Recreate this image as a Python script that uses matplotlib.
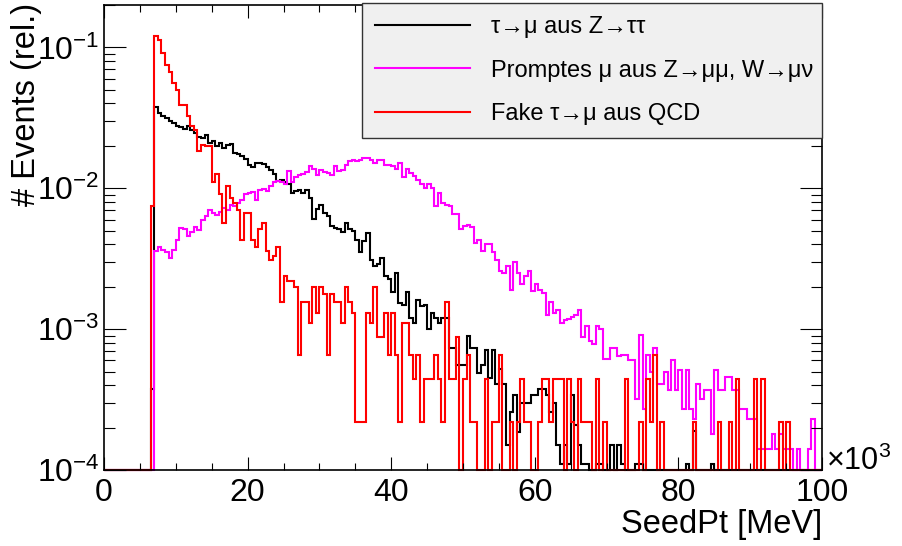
import numpy as np
import matplotlib
matplotlib.use('Agg')
import matplotlib.pyplot as plt
from matplotlib.ticker import MultipleLocator, LogLocator, NullFormatter

plt.rcParams['font.family'] = ['Liberation Sans', 'DejaVu Sans']
plt.rcParams['mathtext.fontset'] = 'custom'
plt.rcParams['mathtext.rm'] = 'Liberation Sans'
plt.rcParams['mathtext.it'] = 'Liberation Sans:italic'

# 200 bins of 0.5 (x 10^3 MeV) from 0 to 100
edges = np.linspace(0, 100, 201)

# tau -> mu from Z -> tautau
black = [
    0, 0, 0, 0, 0, 0, 0, 0, 0, 0,
    0, 0, 0, 3.75e-4, 0.0379, 0.0344, 0.0326, 0.0314, 0.0302, 0.0289,
    0.0277, 0.0271, 0.0262, 0.0277, 0.0259, 0.0248, 0.0232, 0.0226, 0.0239, 0.0211,
    0.0218, 0.0200, 0.0208, 0.0192, 0.0203, 0.0206, 0.0179, 0.0175, 0.0169, 0.0161,
    0.0146, 0.0142, 0.0152, 0.0152, 0.0149, 0.0141, 0.0135, 0.0126, 0.0113, 0.0115,
    0.0111, 0.0107, 0.0093, 0.0096, 0.0097, 0.0092, 0.0097, 0.0085, 0.0061, 0.0071,
    0.0076, 0.0067, 0.0064, 0.0054, 0.0052, 0.0051, 0.0049, 0.0057, 0.0051, 0.0050,
    0.0043, 0.0035, 0.0042, 0.0048, 0.0031, 0.0028, 0.0029, 0.0032, 0.0024, 0.00226,
    0.00182, 0.00252, 0.00153, 0.00149, 0.00182, 0.00120, 0.00110, 0.00160, 0.00146, 0.00149,
    0.00100, 0.00130, 0.00120, 0.00111, 0.00120, 0.00120, 0.00074, 0.00074, 0.00056, 0.00056,
    0.00056, 0.00090, 0.00074, 0.00073, 0.00049, 0.00056, 0.00071, 0.00045, 0.00071, 0.00041,
    0.00052, 0.00041, 0.00015, 0.00026, 0.00034, 0.000185, 0.00030, 0.00030, 0.00030, 0.00034,
    0.00034, 0.000375, 0.000375, 0.00034, 0.00026, 0.00030, 0.00015, 0.00011, 0.00015, 0.00011,
    0.00034, 0.00021, 0.00015, 0.00011, 0.00011, 0, 0, 0.00011, 0.00011, 0,
    0, 0.00015, 0, 0.00015, 0.00011, 0, 0, 0, 0.00011, 0.00011,
    0, 0, 0, 0, 0, 0, 0, 0, 0, 0,
    0, 0, 0.00011, 0, 0.00019, 0, 0, 0, 0, 0.00011,
    0, 0, 0, 0, 0, 0, 0, 0, 0, 0,
    0, 0, 0, 0, 0, 0, 0, 0, 0, 0,
    0, 0, 0, 0, 0, 0, 0, 0, 0, 0,
]

# prompt mu from Z -> mumu, W -> munu
magenta = [
    0, 0, 0, 0, 0, 0, 0, 0, 0, 0,
    0, 0, 0, 0, 0.00361, 0.00382, 0.00366, 0.00350, 0.00319, 0.00366,
    0.00431, 0.00520, 0.00512, 0.00459, 0.00493, 0.00535, 0.00506, 0.00596, 0.00637, 0.00702,
    0.00672, 0.00647, 0.00684, 0.00722, 0.00702, 0.00762, 0.00750, 0.00783, 0.00826, 0.00912,
    0.00923, 0.00946, 0.00826, 0.00973, 0.00984, 0.00962, 0.0103, 0.0111, 0.0113, 0.0110,
    0.0107, 0.0133, 0.0111, 0.0121, 0.0124, 0.0126, 0.0131, 0.0144, 0.0136, 0.0124,
    0.0135, 0.0131, 0.0129, 0.0124, 0.0144, 0.0133, 0.0135, 0.0146, 0.0157, 0.0159,
    0.0156, 0.0159, 0.0163, 0.0163, 0.0159, 0.0150, 0.0159, 0.0159, 0.0147, 0.0146,
    0.0143, 0.0136, 0.0152, 0.0121, 0.0136, 0.0129, 0.0122, 0.0115, 0.0107, 0.0100,
    0.0108, 0.0100, 0.0075, 0.0093, 0.0078, 0.0076, 0.0075, 0.0066, 0.0066, 0.0051,
    0.0054, 0.0055, 0.0053, 0.0041, 0.0043, 0.0036, 0.0040, 0.0040, 0.0035, 0.0031,
    0.0026, 0.0025, 0.0028, 0.0019, 0.0030, 0.0025, 0.0021, 0.0024, 0.0026, 0.00185,
    0.0021, 0.0019, 0.0018, 0.00126, 0.00157, 0.0013, 0.00137, 0.00111, 0.00116, 0.00118,
    0.00122, 0.00126, 0.00137, 0.00088, 0.00106, 0.00083, 0.00079, 0.00106, 0.0010, 0.00061,
    0.00061, 0.00073, 0.00073, 0.00064, 0.00065, 0.00065, 0.00060, 0.00060, 0.00032, 0.00091,
    0.00027, 0.00065, 0.00050, 0.00073, 0.00041, 0.00041, 0.00050, 0.00037, 0.00060, 0.00037,
    0.00051, 0.00027, 0.00051, 0.00027, 0.00023, 0.00041, 0.00032, 0.00037, 0.00037, 0.00018,
    0.00051, 0.00037, 0.00037, 0.00046, 0.00046, 0.00037, 0.00037, 0.00027, 0.00027, 0.00023,
    0.00023, 0.00023, 0.00014, 0.00014, 0.00014, 0.00014, 0.00018, 0.00014, 0.00018, 0.00014,
    0.00014, 0.00014, 0, 0.00014, 0, 0, 0.00014, 0.00023, 0, 0,
]

# fake tau -> mu from QCD
red = [
    0, 0, 0, 0, 0, 0, 0, 0, 0, 0,
    0, 0, 0, 0.0075, 0.120, 0.113, 0.092, 0.075, 0.067, 0.056,
    0.050, 0.039, 0.039, 0.0326, 0.0277, 0.0259, 0.0185, 0.0203, 0.0198, 0.0198,
    0.0111, 0.0126, 0.0091, 0.0057, 0.0104, 0.0085, 0.0078, 0.0070, 0.0043, 0.0067,
    0.0067, 0.0043, 0.0038, 0.0051, 0.0057, 0.0036, 0.0031, 0.0033, 0.0038, 0.00155,
    0.0024, 0.0022, 0.0022, 0.0020, 0.00066, 0.00155, 0.00155, 0.0011, 0.0020, 0.0013,
    0.0020, 0.00177, 0.00066, 0.00177, 0.00155, 0.00155, 0.0011, 0.0020, 0.00155, 0.0013,
    0.00022, 0.00022, 0.00022, 0.0013, 0.0011, 0.0020, 0.00088, 0.00088, 0.0013, 0.00066,
    0.0013, 0.00066, 0.00022, 0.0011, 0.0011, 0.00066, 0.00044, 0.00066, 0.00022, 0.00044,
    0.00044, 0.00044, 0.00066, 0.00044, 0.00022, 0.00155, 0.00044, 0.00044, 0.00088, 0,
    0.00044, 0.00066, 0.00022, 0.00022, 0, 0, 0.00044, 0, 0.00022, 0.00022,
    0.00066, 0, 0, 0.00022, 0, 0.00022, 0.00044, 0.00022, 0.00022, 0,
    0, 0.00022, 0.00044, 0.00044, 0.00022, 0.00044, 0.00044, 0.00044, 0, 0.00044,
    0.00022, 0, 0.00044, 0.00022, 0.00022, 0.00022, 0, 0.00044, 0, 0.00022,
    0, 0, 0, 0, 0, 0.00044, 0, 0, 0, 0.00022,
    0, 0.00044, 0.00022, 0.00066, 0, 0.00022, 0, 0, 0, 0,
    0, 0, 0, 0, 0.00022, 0, 0, 0, 0, 0,
    0, 0.00022, 0, 0, 0.00022, 0, 0.00044, 0, 0, 0,
    0, 0.00044, 0, 0.00044, 0, 0, 0, 0, 0.00022, 0,
    0.00022, 0, 0, 0, 0, 0, 0, 0, 0, 0,
]

labels = [u'\u03c4\u2192\u03bc aus Z\u2192\u03c4\u03c4',
          u'Promptes \u03bc aus Z\u2192\u03bc\u03bc, W\u2192\u03bc\u03bd',
          u'Fake \u03c4\u2192\u03bc aus QCD']
colors = ['black', '#ff00ff', '#ff0000']

ymin, ymax = 1e-4, 0.2

fig = plt.figure(figsize=(9.02, 5.46), dpi=100)
ax = fig.add_axes([104 / 902, 1 - 470 / 546, 718 / 902, 465 / 546])

for vals, col, lab in zip([black, magenta, red], colors, labels):
    v = np.clip(np.array(vals, dtype=float), ymin, None)   # empty bins sit on the frame
    ax.stairs(v, edges, baseline=None, color=col, lw=1.5, label=lab, clip_on=False)

ax.set_yscale('log')
ax.set_xlim(0, 100)
ax.set_ylim(ymin, ymax)

ax.xaxis.set_major_locator(MultipleLocator(20))
ax.xaxis.set_minor_locator(MultipleLocator(5))
ax.yaxis.set_minor_locator(LogLocator(base=10, subs=np.arange(2, 10), numticks=20))
ax.yaxis.set_minor_formatter(NullFormatter())

ax.tick_params(which='both', direction='in', top=True, right=True, width=0.8)
ax.tick_params(axis='x', which='major', length=9.5, labelsize=23, pad=6)
ax.tick_params(axis='x', which='minor', length=5)
ax.tick_params(axis='y', which='major', length=16, labelsize=23, pad=3)
ax.tick_params(axis='y', which='minor', length=8)
for s in ax.spines.values():
    s.set_linewidth(1.2)

ax.set_xlabel('SeedPt [MeV]', fontsize=23.5, loc='right')
ax.xaxis.set_label_coords(1.0, -0.083)
ax.set_ylabel('# Events (rel.)', fontsize=23.5, loc='top')
ax.yaxis.set_label_coords(-0.086, 1.005)

fig.text(826 / 902, 1 - 470 / 546, r'$\times$10$^{3}$', fontsize=22, va='baseline', ha='left')

leg = ax.legend(loc='upper left', bbox_to_anchor=(362 / 902, 1 - 3 / 546, 460 / 902, 0),
                bbox_transform=fig.transFigure, mode='expand', borderaxespad=0,
                fontsize=17, fancybox=False, framealpha=1, borderpad=0.57,
                labelspacing=0.9, handlelength=4.0, handletextpad=0.9)
leg.get_frame().set_facecolor('#f0f0f0')
leg.get_frame().set_edgecolor('#333333')
leg.get_frame().set_linewidth(1)

fig.savefig('out.png', dpi=100)
